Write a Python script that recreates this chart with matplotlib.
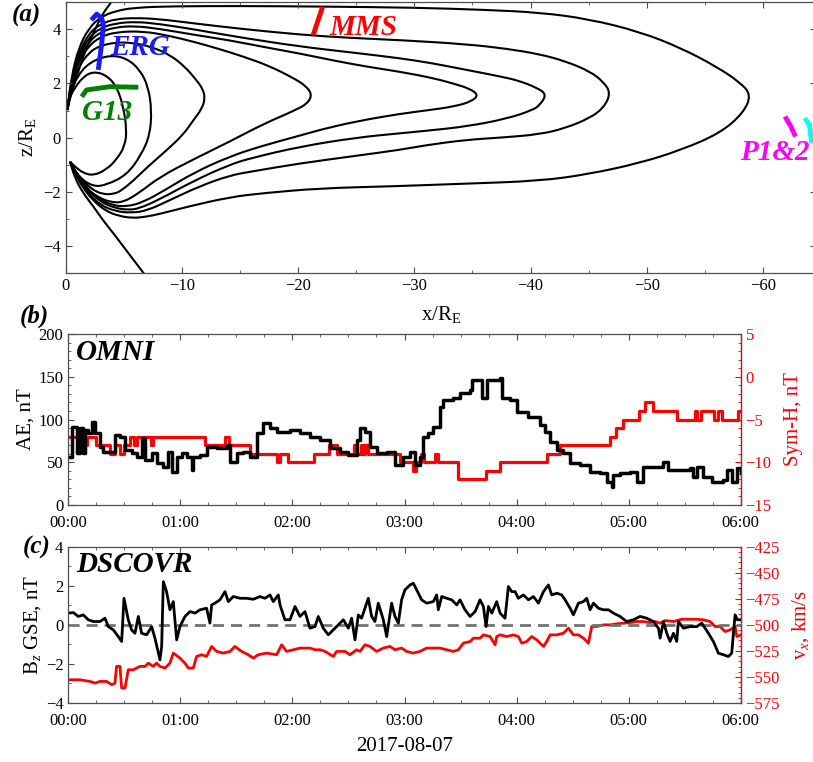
import numpy as np
import matplotlib
matplotlib.use('Agg')
import matplotlib.pyplot as plt
from matplotlib.path import Path
from matplotlib.patches import PathPatch
from matplotlib.ticker import MultipleLocator, FuncFormatter

plt.rcParams['font.family'] = ['Liberation Serif', 'DejaVu Serif']
plt.rcParams['mathtext.fontset'] = 'custom'
plt.rcParams['mathtext.rm'] = 'Liberation Serif'
plt.rcParams['mathtext.it'] = 'Liberation Serif:italic'

# ---------------- panel (a): field lines (x, z in RE)
loop1_x = [-0.14, -0.3, -0.65, -1.5, -2.4, -3.5, -4.4, -4.96, -5.25, -5.1, -4.4, -3.5, -2.4, -1.5, -0.8, -0.37]
loop1_z = [1.02, 1.4, 1.76, 2.25, 2.44, 2.31, 1.88, 1.14, 0.3, -0.3, -0.8, -1.18, -1.4, -1.31, -1.07, -0.89]

loop2_x = [-0.14, -0.4, -0.95, -2.1, -3.8, -5.25, -6.4, -7.1, -7.4, -7.25, -6.5, -5.25, -3.5, -2.4, -1.23, -0.6, -0.37]
loop2_z = [1.02, 1.6, 2.25, 2.8, 3.05, 2.93, 2.5, 1.88, 1.02, 0.1, -0.64, -1.38, -1.75, -1.81, -1.5, -1.1, -0.89]

loop3_x = [-0.14, -0.5, -1.1, -2.0, -3.0, -4.4, -5.8, -7.4, -9.0, -10.3, -11.2, -11.8, -12.0,
           -11.7, -11.0, -10.1, -8.6, -7.0, -5.8, -4.8, -4.2, -3.2, -2.2, -1.3, -0.7, -0.37]
loop3_z = [1.02, 1.9, 2.6, 3.15, 3.4, 3.52, 3.5, 3.35, 3.05, 2.6, 2.15, 1.8, 1.45,
           1.05, 0.65, 0.1, -0.5, -1.1, -1.6, -1.95, -2.08, -2.1, -1.9, -1.5, -1.15, -0.89]

loop4_x = [-0.14, -0.5, -1.1, -2.0, -3.0, -4.3, -6.7, -9.0, -11.0, -13.0, -15.3, -17.5, -19.6, -20.7, -21.2,
           -20.8, -19.6, -17.0, -14.1, -11.0, -8.1, -6.3, -4.9, -3.8, -2.8, -1.8, -1.1, -0.6, -0.37]
loop4_z = [1.02, 2.0, 2.8, 3.4, 3.72, 3.9, 3.93, 3.75, 3.54, 3.3, 2.99, 2.65, 2.2, 1.9, 1.58,
           1.25, 0.98, 0.5, -0.15, -0.8, -1.45, -2.05, -2.4, -2.38, -2.2, -1.9, -1.5, -1.15, -0.89]

loop5_x = [-0.14, -0.5, -1.1, -2.0, -3.0, -4.3, -6.0, -8.0, -11.0, -14.0, -17.0, -20.2, -23.0, -25.9, -28.8, -31.6, -33.5, -34.8, -35.5,
           -35.0, -33.5, -31.0, -28.8, -25.0, -22.0, -20.2, -16.7, -14.1, -11.0, -8.5, -6.6, -5.2, -4.0, -2.8, -1.8, -1.0, -0.37]
loop5_z = [1.02, 2.05, 2.9, 3.55, 3.9, 4.08, 4.12, 4.02, 3.8, 3.6, 3.35, 3.1, 2.85, 2.62, 2.43, 2.2, 1.98, 1.8, 1.58,
           1.35, 1.15, 1.0, 0.88, 0.6, 0.3, 0.08, -0.33, -0.7, -1.3, -1.95, -2.4, -2.55, -2.5, -2.25, -1.85, -1.38, -0.89]

loop6_x = [-0.14, -0.5, -1.1, -2.0, -3.0, -4.3, -6.0, -8.0, -11.0, -15.0, -20.2, -24.5, -28.8, -31.5, -34.5, -37.5, -39.0, -40.5, -41.4,
           -40.8, -40.2, -38.0, -34.5, -31.0, -28.8, -25.0, -20.2, -16.0, -14.1, -11.0, -8.0, -6.3, -5.4, -4.2, -2.9, -1.8, -1.0, -0.37]
loop6_z = [1.02, 2.1, 3.0, 3.7, 4.05, 4.22, 4.28, 4.2, 4.0, 3.7, 3.36, 3.15, 2.93, 2.75, 2.5, 2.25, 2.1, 1.85, 1.6,
           1.2, 1.02, 0.7, 0.41, 0.25, 0.16, 0.0, -0.33, -0.75, -1.0, -1.6, -2.3, -2.62, -2.67, -2.6, -2.35, -1.9, -1.4, -0.89]

loop7_x = [-0.14, -0.5, -1.1, -2.0, -3.0, -4.3, -6.0, -8.0, -11.0, -15.0, -20.2, -24.5, -28.8, -34.5, -38.0, -40.8, -43.0, -45.1, -46.3, -46.9,
           -46.3, -45.1, -43.0, -40.8, -37.5, -34.5, -31.0, -28.8, -24.5, -20.2, -16.0, -14.1, -11.5, -9.0, -7.0, -5.6, -4.3, -3.0, -1.9, -1.1, -0.37]
loop7_z = [1.02, 2.15, 3.1, 3.85, 4.2, 4.38, 4.42, 4.38, 4.22, 4.02, 3.8, 3.68, 3.6, 3.45, 3.28, 3.08, 2.82, 2.45, 2.05, 1.64,
           1.1, 0.72, 0.35, 0.12, 0.0, -0.08, -0.28, -0.45, -0.7, -0.95, -1.25, -1.4, -1.8, -2.3, -2.7, -2.78, -2.72, -2.5, -2.05, -1.5, -0.89]

loop8_x = [-0.14, -0.5, -1.1, -2.0, -3.0, -4.3, -6.0, -9.0, -15.0, -22.0, -30.0, -36.0, -40.8, -45.0, -49.4, -53.0, -56.0, -58.0, -59.0,
           -58.3, -56.3, -53.0, -49.4, -45.0, -40.8, -34.5, -28.0, -21.9, -17.0, -14.1, -10.5, -8.1, -6.8, -5.8, -4.6, -3.4, -2.3, -1.4, -0.8, -0.37]
loop8_z = [1.02, 2.25, 3.3, 4.05, 4.45, 4.68, 4.8, 4.85, 4.86, 4.84, 4.8, 4.72, 4.62, 4.38, 3.91, 3.3, 2.62, 2.05, 1.58,
           0.9, 0.16, -0.45, -0.94, -1.35, -1.6, -1.7, -1.8, -1.87, -2.05, -2.2, -2.55, -2.82, -2.93, -2.97, -2.9, -2.7, -2.3, -1.8, -1.3, -0.89]

open_top_x = [-0.14, -0.5, -0.95, -1.5, -2.1, -2.7, -3.2, -3.96, -4.4]
open_top_z = [1.02, 1.7, 2.25, 3.0, 3.6, 4.15, 4.59, 5.02, 5.3]
open_bot_x = [-0.37, -0.8, -1.5, -2.4, -3.2, -4.1, -5.4, -6.7, -7.2]
open_bot_z = [-0.89, -1.5, -2.05, -2.55, -3.05, -3.53, -4.27, -5.0, -5.3]

field_lines = [(loop1_x, loop1_z), (loop2_x, loop2_z), (loop3_x, loop3_z), (loop4_x, loop4_z),
               (loop5_x, loop5_z), (loop6_x, loop6_z), (loop7_x, loop7_z), (loop8_x, loop8_z),
               (open_top_x, open_top_z), (open_bot_x, open_bot_z)]

# spacecraft footprints
erg_x = [-2.2, -2.67, -3.1, -3.24, -3.1, -2.8]
erg_z = [4.34, 4.56, 4.4, 4.16, 3.48, 2.5]
g13_x = [-1.38, -1.8, -3.8, -6.25]
g13_z = [1.51, 1.76, 1.88, 1.86]
mms_x = [-21.3, -22.1]
mms_z = [3.79, 4.82]
p1_x = [-61.9, -62.4, -62.8]
p1_z = [0.78, 0.42, 0.04]
p2_x = [-63.6, -64.0, -64.2]
p2_z = [0.72, 0.47, -0.2]

# ---------------- panel (b): OMNI AE and Sym-H (hours from 00:00 UT)
ae_t = [0.000, 0.030, 0.074, 0.104, 0.134, 0.149, 0.178, 0.208, 0.238, 0.283, 0.312, 0.372, 0.416, 0.461, 0.506,
        0.565, 0.610, 0.654, 0.684, 0.744, 0.788, 0.848, 0.892, 0.922, 0.967, 1.011, 1.056, 1.101, 1.115, 1.175,
        1.234, 1.324, 1.413, 1.443, 1.502, 1.562, 1.621, 1.681, 1.740, 1.800, 1.859, 1.978, 2.067, 2.156, 2.246,
        2.335, 2.424, 2.499, 2.573, 2.603, 2.647, 2.692, 2.751, 2.841, 2.915, 2.989, 3.049, 3.094, 3.138, 3.168,
        3.213, 3.257, 3.317, 3.347, 3.436, 3.496, 3.585, 3.600, 3.659, 3.689, 3.734, 3.740, 3.853, 3.868, 3.942,
        4.001, 4.105, 4.209, 4.254, 4.299, 4.359, 4.418, 4.478, 4.567, 4.656, 4.745, 4.805, 4.849, 4.864, 4.924,
        5.013, 5.073, 5.132, 5.221, 5.311, 5.355, 5.429, 5.548, 5.578, 5.608, 5.667, 5.741, 5.846, 5.875, 5.920,
        5.965, 6.000]
ae_val = [56.5, 91.6, 60.4, 89.7, 60.4, 87.7, 83.8, 97.5, 83.8, 68.2, 62.4, 62.4, 81.9, 79.9, 64.3,
          60.4, 56.5, 78.0, 52.6, 60.4, 48.7, 44.8, 62.4, 39.0, 56.5, 60.4, 56.5, 40.9, 56.5, 58.5,
          68.2, 66.3, 70.2, 50.7, 60.4, 62.4, 56.5, 83.8, 95.5, 89.7, 85.8, 87.7, 83.8, 79.9, 76.0,
          66.3, 62.4, 58.5, 76.0, 89.7, 85.8, 68.2, 60.4, 62.4, 46.8, 56.5, 62.4, 46.8, 56.5, 79.9,
          83.8, 91.6, 115.0, 122.8, 124.8, 130.6, 134.5, 146.2, 146.2, 124.8, 126.7, 146.2, 148.9, 124.8, 122.8,
          109.2, 103.3, 93.6, 85.8, 74.1, 64.3, 60.4, 48.7, 46.8, 39.0, 37.0, 27.3, 21.4, 35.1, 37.0,
          39.0, 27.3, 44.8, 44.8, 50.7, 40.9, 40.9, 42.9, 33.1, 44.8, 33.1, 27.3, 29.2, 40.9, 27.3,
          42.9, 37.0]

symh_t = [0.00, 0.13, 0.17, 0.25, 0.37, 0.42, 0.46, 0.50, 0.55, 0.59, 0.61, 0.74, 0.76, 1.22, 1.40, 1.43,
          1.62, 1.86, 1.89, 1.96, 2.19, 2.33, 2.40, 2.55, 2.58, 2.61, 2.63, 2.65, 2.67, 2.70, 2.96, 3.08,
          3.10, 3.15, 3.17, 3.27, 3.30, 3.48, 3.73, 3.85, 4.27, 4.39, 4.83, 4.89, 4.95, 5.09, 5.15, 5.22,
          5.43, 5.59, 5.61, 5.65, 5.76, 5.80, 5.83, 5.98, 6.00]
symh_val = [-7, -8, -7, -8, -9, -8, -9, -8, -7, -8, -7, -8, -7, -8, -7, -8,
            -9, -10, -9, -10, -9, -8, -9, -8, -9, -8, -9, -8, -9, -9, -10, -11,
            -10, -9, -10, -9, -10, -12, -11, -10, -9, -8, -7, -6, -5, -4, -3, -4,
            -5, -4, -5, -4, -5, -4, -5, -4, -4]

# ---------------- panel (c): DSCOVR Bz GSE and Vx
bz_t = [0.000, 0.045, 0.089, 0.134, 0.178, 0.223, 0.283, 0.327, 0.357, 0.402, 0.446, 0.476, 0.497, 0.535, 0.565,
        0.595, 0.625, 0.654, 0.699, 0.744, 0.773, 0.818, 0.833, 0.848, 0.877, 0.907, 0.937, 0.967, 0.996, 1.041,
        1.086, 1.130, 1.175, 1.234, 1.264, 1.279, 1.309, 1.353, 1.398, 1.428, 1.472, 1.532, 1.591, 1.651, 1.710,
        1.755, 1.800, 1.829, 1.874, 1.889, 1.933, 1.978, 2.023, 2.067, 2.112, 2.156, 2.201, 2.231, 2.275, 2.320,
        2.350, 2.394, 2.454, 2.499, 2.528, 2.558, 2.588, 2.617, 2.647, 2.677, 2.707, 2.736, 2.766, 2.811, 2.841,
        2.885, 2.915, 2.945, 2.974, 3.004, 3.049, 3.079, 3.109, 3.153, 3.198, 3.257, 3.287, 3.302, 3.332, 3.377,
        3.421, 3.466, 3.496, 3.540, 3.585, 3.630, 3.674, 3.704, 3.728, 3.749, 3.779, 3.823, 3.853, 3.897, 3.927,
        3.957, 3.987, 4.016, 4.061, 4.106, 4.150, 4.195, 4.240, 4.284, 4.314, 4.359, 4.403, 4.433, 4.478, 4.507,
        4.552, 4.597, 4.626, 4.656, 4.686, 4.731, 4.775, 4.820, 4.864, 4.924, 4.983, 5.043, 5.102, 5.162, 5.221,
        5.266, 5.281, 5.311, 5.340, 5.370, 5.400, 5.429, 5.444, 5.489, 5.548, 5.608, 5.652, 5.712, 5.756, 5.801,
        5.846, 5.890, 5.920, 5.935, 5.950, 5.970, 6.000]
bz_val = [0.60, 0.63, 0.43, 0.51, 0.26, 0.17, 0.17, 0.34, -0.09, -0.26, -0.60, -0.85, 1.36, 0.26, -0.26,
          -0.43, 0.43, -0.43, -0.51, -0.09, -0.68, -1.79, -1.11, 2.21, 1.70, 0.77, 1.19, -0.77, -0.09, 0.43,
          0.68, 0.60, 0.77, 0.85, 0.09, 1.02, 1.11, 1.28, 1.70, 1.19, 1.45, 1.36, 1.36, 1.31, 1.45,
          1.36, 1.53, 1.19, 1.53, 1.02, 0.26, 0.26, 0.94, 0.43, 0.68, -0.17, -0.09, 0.43, -0.17, -0.51,
          -0.34, -0.09, 0.26, -0.17, 0.34, -0.77, 0.51, 0.34, 0.85, 1.36, 0.43, 0.17, 1.11, 0.26, -0.60,
          1.11, 0.43, 0.09, 1.28, 1.79, 2.04, 2.13, 1.79, 1.28, 1.11, 1.19, 1.53, 0.77, 1.45, 1.36,
          1.28, 1.02, 1.28, 0.77, 0.43, 0.68, 1.28, 0.94, -0.09, 0.94, 0.60, 1.19, 0.60, 0.34, 1.96,
          1.70, 1.70, 1.36, 1.53, 1.28, 1.45, 1.11, 1.70, 2.04, 1.53, 1.62, 1.53, 1.28, 0.85, 0.51,
          1.11, 1.19, 1.36, 0.77, 1.11, 0.85, 0.77, 0.77, 0.60, 0.43, 0.17, 0.26, 0.43, 0.34, 0.17,
          -0.17, -0.68, 0.17, -0.43, -0.85, -0.43, -0.85, 0.17, -0.17, -0.09, -0.09, 0.09, -0.43, -0.85, -1.45,
          -1.53, -1.62, -1.45, -0.43, 0.51, 0.26, 0.26]

vx_t = [0.000, 0.104, 0.193, 0.238, 0.283, 0.342, 0.387, 0.416, 0.431, 0.461, 0.476, 0.506, 0.535, 0.580, 0.639,
        0.684, 0.714, 0.758, 0.788, 0.818, 0.863, 0.907, 0.937, 0.996, 1.041, 1.071, 1.115, 1.145, 1.190, 1.234,
        1.279, 1.324, 1.383, 1.443, 1.487, 1.547, 1.606, 1.651, 1.695, 1.770, 1.859, 1.904, 1.948, 2.008, 2.067,
        2.156, 2.201, 2.246, 2.290, 2.365, 2.394, 2.469, 2.513, 2.573, 2.603, 2.647, 2.692, 2.751, 2.811, 2.870,
        2.915, 2.974, 3.019, 3.079, 3.138, 3.198, 3.257, 3.317, 3.377, 3.436, 3.481, 3.525, 3.585, 3.615, 3.674,
        3.704, 3.763, 3.808, 3.823, 3.853, 3.912, 3.972, 4.016, 4.046, 4.090, 4.135, 4.180, 4.240, 4.269, 4.299,
        4.359, 4.418, 4.463, 4.507, 4.552, 4.597, 4.641, 4.671, 4.716, 4.775, 4.835, 4.894, 4.954, 5.013, 5.073,
        5.132, 5.192, 5.236, 5.281, 5.325, 5.400, 5.474, 5.548, 5.608, 5.667, 5.727, 5.771, 5.816, 5.861, 5.905,
        5.950, 5.965, 6.000]
vx_val = [-552.7, -552.7, -554.3, -555.9, -554.3, -554.3, -557.4, -555.9, -539.9, -539.9, -560.6, -560.6, -543.1, -543.1, -539.9,
          -539.9, -536.7, -539.9, -536.7, -539.9, -541.5, -536.7, -527.1, -531.9, -536.7, -541.5, -541.5, -530.3, -528.7, -530.3,
          -520.7, -525.5, -527.1, -525.5, -520.7, -525.5, -528.7, -531.9, -528.7, -527.1, -528.7, -519.1, -525.5, -523.9, -522.3,
          -522.3, -523.9, -523.9, -525.5, -530.3, -525.5, -525.5, -528.7, -523.9, -525.5, -519.1, -520.7, -525.5, -522.3, -520.7,
          -523.9, -522.3, -525.5, -527.1, -525.5, -522.3, -522.3, -522.3, -523.9, -525.5, -523.9, -517.6, -516.0, -512.8, -512.8,
          -509.6, -511.2, -519.1, -511.2, -509.6, -511.2, -509.6, -511.2, -517.6, -516.0, -511.2, -514.4, -520.7, -516.0, -509.6,
          -509.6, -508.0, -503.2, -509.6, -509.6, -512.8, -517.6, -501.6, -501.6, -500.0, -500.0, -499.0, -498.4, -497.8, -496.8,
          -496.8, -497.8, -496.8, -498.4, -495.9, -496.8, -494.6, -494.6, -494.6, -495.2, -496.8, -501.6, -501.6, -506.4, -504.8,
          -501.6, -511.2, -509.6]

hour_ticks = [0, 1, 2, 3, 4, 5, 6]


def smooth_path(xs, zs):
    # quadratic curve through the midpoints, read points act as control points
    pts = list(zip(xs, zs))
    verts = [pts[0]]
    codes = [Path.MOVETO]
    mid = ((pts[0][0] + pts[1][0]) / 2, (pts[0][1] + pts[1][1]) / 2)
    verts.append(mid)
    codes.append(Path.LINETO)
    for i in range(1, len(pts) - 1):
        mid = ((pts[i][0] + pts[i + 1][0]) / 2, (pts[i][1] + pts[i + 1][1]) / 2)
        verts += [pts[i], mid]
        codes += [Path.CURVE3, Path.CURVE3]
    verts.append(pts[-1])
    codes.append(Path.LINETO)
    return Path(verts, codes)


W, H = 813, 762
fig = plt.figure(figsize=(W / 100, H / 100), dpi=100)

spine_col = '0.3'


def style_axes(ax):
    for s in ax.spines.values():
        s.set_color(spine_col)
        s.set_linewidth(0.9)
    ax.tick_params(which='both', direction='in', labelsize=12, colors=spine_col, labelcolor='black')
    ax.tick_params(which='major', length=4)
    ax.tick_params(which='minor', length=2.5)


# ---------------- (a)
axa = fig.add_axes([65.7 / W, 1 - 273 / H, (816 - 65.7) / W, (273 - 2.2) / H])
for lx, lz in field_lines:
    axa.add_patch(PathPatch(smooth_path(lx, lz), facecolor='none', edgecolor='black', lw=1.5))
axa.plot(erg_x, erg_z, color='#1a1aff', lw=3.5, solid_capstyle='butt')
axa.plot(g13_x, g13_z, color='#008000', lw=3.5, solid_capstyle='butt')
axa.plot(mms_x, mms_z, color='#ff0000', lw=3.5, solid_capstyle='butt')
axa.plot(p1_x, p1_z, color='#ff00ff', lw=3.5, solid_capstyle='butt')
axa.plot(p2_x, p2_z, color='#00ffff', lw=3.5, solid_capstyle='butt')
lab_kw = dict(fontsize=21, fontweight='bold', fontstyle='italic')
axa.text(-3.8, 3.05, 'ERG', color='#1a1aff', **lab_kw)
axa.text(-1.4, 0.65, 'G13', color='#008000', **lab_kw)
axa.text(-22.7, 3.8, 'MMS', color='#ff0000', **lab_kw)
axa.text(-58.0, -0.82, 'P1&2', color='#ff00ff', **lab_kw)
axa.set_xlim(0, -(816 - 65.7) / 11.62)
axa.set_ylim(-5, 5)
axa.xaxis.set_major_locator(MultipleLocator(10))
axa.xaxis.set_minor_locator(MultipleLocator(5))
axa.yaxis.set_major_locator(MultipleLocator(2))
axa.yaxis.set_minor_locator(MultipleLocator(1))
style_axes(axa)
axa.tick_params(which='both', top=True, right=True)
axa.set_xlabel('x/R$_\\mathrm{E}$', fontsize=15, labelpad=7)
axa.set_ylabel('z/R$_\\mathrm{E}$', fontsize=15, labelpad=4)

# ---------------- (b)
axb = fig.add_axes([68.3 / W, 1 - 505 / H, (740.7 - 68.3) / W, (505 - 334) / H])
axb2 = axb.twinx()
axb2.plot(symh_t, symh_val, color='#ff0000', lw=2.3, drawstyle='steps-post')
axb.plot(ae_t, ae_val, color='black', lw=2.5, drawstyle='steps-post')
axb.set_zorder(axb2.get_zorder() + 1)
axb.patch.set_visible(False)
axb.set_ylim(0, 200)
axb2.set_ylim(-15, 5)
axb.set_xlim(0, 6)
axb.yaxis.set_major_locator(MultipleLocator(50))
axb.yaxis.set_minor_locator(MultipleLocator(10))
axb2.yaxis.set_major_locator(MultipleLocator(5))
axb2.yaxis.set_minor_locator(MultipleLocator(1))
axb.text(0.012, 0.97, 'OMNI', transform=axb.transAxes, ha='left', va='top', **lab_kw)
axb.set_ylabel('AE, nT', fontsize=15, labelpad=2)
axb2.set_ylabel('Sym-H, nT', fontsize=15, color='#ff0000', labelpad=9)

# ---------------- (c)
axc = fig.add_axes([68.3 / W, 1 - 703 / H, (740.7 - 68.3) / W, (703 - 546.7) / H])
axc2 = axc.twinx()
axc2.plot(vx_t, vx_val, color='#ff0000', lw=2.0)
axc.axhline(0, color='0.45', lw=2.0, ls=(0, (4, 2.5)))
axc.plot(bz_t, bz_val, color='black', lw=2.0)
axc.set_zorder(axc2.get_zorder() + 1)
axc.patch.set_visible(False)
axc.set_ylim(-4, 4)
axc2.set_ylim(-575, -425)
axc.set_xlim(0, 6)
axc.yaxis.set_major_locator(MultipleLocator(2))
axc.yaxis.set_minor_locator(MultipleLocator(1))
axc2.yaxis.set_major_locator(MultipleLocator(25))
axc2.yaxis.set_minor_locator(MultipleLocator(5))
axc.text(0.012, 0.97, 'DSCOVR', transform=axc.transAxes, ha='left', va='top', **lab_kw)
axc.set_ylabel('B$_z$ GSE, nT', fontsize=15, labelpad=2)
axc2.set_ylabel('v$_x$, km/s', fontsize=15, color='#ff0000', labelpad=7)
axc.set_xlabel('2017-08-07', fontsize=15, labelpad=6)

hour_fmt = FuncFormatter(lambda v, p: '%02d:00' % int(round(v)))
for ax, ax2 in [(axb, axb2), (axc, axc2)]:
    ax.set_xticks(hour_ticks)
    ax.xaxis.set_major_formatter(hour_fmt)
    ax.xaxis.set_minor_locator(MultipleLocator(0.25))
    style_axes(ax)
    ax.tick_params(which='both', top=True)
    ax.tick_params(axis='x', pad=7)
    style_axes(ax2)
    ax2.tick_params(which='both', colors='#ff0000', labelcolor='#ff0000')
    for s in ['left', 'top', 'bottom']:
        ax2.spines[s].set_visible(False)
    ax2.spines['right'].set_color('#ff0000')

fig.text(12 / W, 1 - 4 / H, '(a)', fontsize=18, fontweight='bold', fontstyle='italic', ha='left', va='top')
fig.text(20 / W, 1 - 305 / H, '(b)', fontsize=18, fontweight='bold', fontstyle='italic', ha='left', va='top')
fig.text(23 / W, 1 - 536 / H, '(c)', fontsize=18, fontweight='bold', fontstyle='italic', ha='left', va='top')

fig.savefig('out.png', dpi=100)
